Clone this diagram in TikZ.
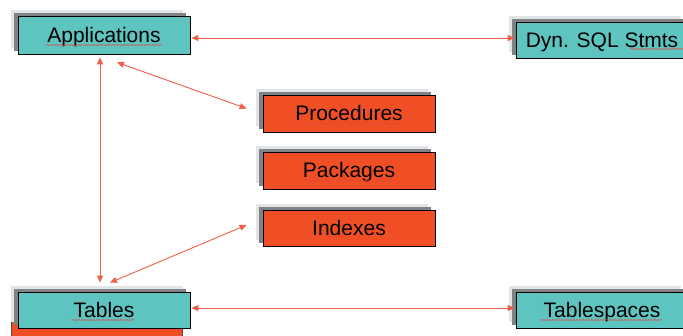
\documentclass[tikz,border=0pt]{standalone}
\usepackage{fontspec}
\setmainfont{Liberation Sans}
\usetikzlibrary{arrows.meta,shadows,calc,decorations.pathmorphing}
\definecolor{tealbox}{RGB}{94,196,192}
\definecolor{orangebox}{RGB}{240,78,36}
\definecolor{darkshadow}{RGB}{128,130,133}
\definecolor{lightshadow}{RGB}{226,229,232}
\definecolor{arrowred}{RGB}{240,96,72}
\definecolor{spellred}{RGB}{230,70,60}
\tikzset{
  basebox/.style={draw=black, line width=0.8pt, minimum width=172pt, inner sep=0pt,
    text height=15pt, text depth=0pt,
    font=\fontsize{21}{25}\selectfont,
    general shadow={shadow xshift=-7pt, shadow yshift=6pt, fill=lightshadow},
    general shadow={shadow xshift=-4pt, shadow yshift=3pt, fill=darkshadow}},
  tealnode/.style={basebox, fill=tealbox},
  orangenode/.style={basebox, fill=orangebox},
  link/.style={draw=arrowred, line width=0.9pt, {Triangle[length=7pt,width=6pt]}-{Triangle[length=7pt,width=6pt]}},
  squiggle/.style={draw=spellred, line width=0.4pt, decorate, decoration={snake, amplitude=0.7pt, segment length=3pt}}
}
\begin{document}
\begin{tikzpicture}[x=1pt,y=-1pt]
\useasboundingbox (0,0) rectangle (683,336);
\clip (0,0) rectangle (683,336);
\fill[white] (0,0) rectangle (683,336);
% partially hidden box behind Tables
\filldraw[fill=orangebox, draw=black!70, line width=0.6pt] (11,319) rectangle (182,360);
\node[tealnode, minimum height=38pt] (app) at (104,35) {Applications};
\node[tealnode, minimum height=36pt] (dyn) at (602,40) {Dyn. SQL Stmts};
\node[orangenode, minimum height=37pt] (proc) at (349,113.5) {Procedures};
\node[orangenode, minimum height=37pt] (pack) at (349,170.5) {Packages};
\node[orangenode, minimum height=36pt] (idx) at (349,228) {Indexes};
\node[tealnode, minimum height=36pt] (tab) at (104,310) {Tables};
\node[tealnode, minimum height=36pt] (tsp) at (602,310) {Tablespaces};
% connectors
\draw[link] ($(app.east)+(1,3)$) -- ($(dyn.west)+(-1,-2)$);
\draw[link] ($(app.south)+(-4,3)$) -- ($(tab.north)+(-4,-9)$);
\draw[link] ($(app.south)+(13,8)$) -- ($(proc.west)+(-16,-5)$);
\draw[link] ($(tab.north)+(6,-9)$) -- ($(idx.west)+(-16,-3)$);
\draw[link] ($(tab.east)+(1,-2)$) -- ($(tsp.west)+(-1,-2)$);
% spell-check underlines
\draw[squiggle] ($(app.center)+(-58,10)$) -- ($(app.center)+(58,10)$);
\draw[squiggle] ($(dyn.center)+(28,9)$) -- ($(dyn.center)+(82,9)$);
\draw[squiggle] ($(proc.center)+(-54,10)$) -- ($(proc.center)+(54,10)$);
\draw[squiggle] ($(pack.center)+(-47,10)$) -- ($(pack.center)+(44,10)$);
\draw[squiggle] ($(tab.center)+(-32,10)$) -- ($(tab.center)+(31,10)$);
\draw[squiggle] ($(tsp.center)+(-62,10)$) -- ($(tsp.center)+(60,10)$);
\end{tikzpicture}
\end{document}
